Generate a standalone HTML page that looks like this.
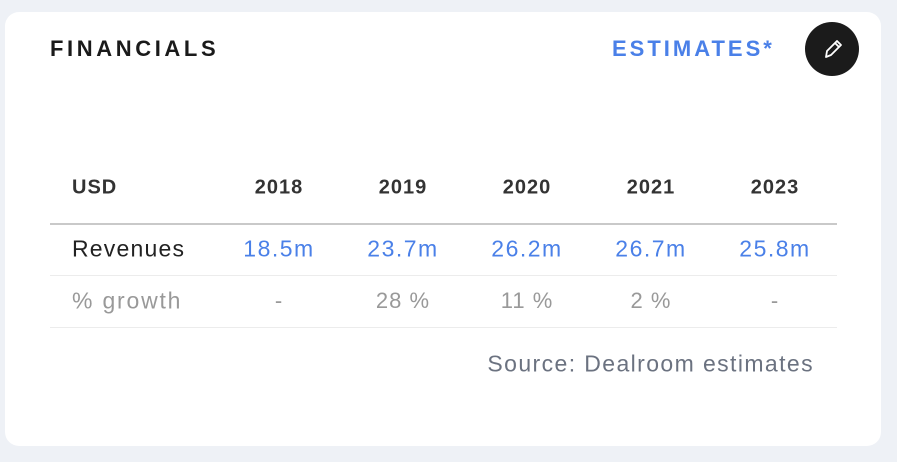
<!DOCTYPE html>
<html><head><meta charset="utf-8"><style>
body{margin:0;width:897px;height:462px;background:#eef1f6;font-family:"Liberation Sans",sans-serif;position:relative;overflow:hidden}
.card{position:absolute;left:5px;top:12px;width:876px;height:434px;background:#fff;border-radius:14px}
.t{position:absolute;white-space:nowrap;transform:translate(-50%,-50%)}
.l{position:absolute;white-space:nowrap;transform:translateY(-50%)}
.line{position:absolute;left:50px;width:787px}
</style></head><body>
<div class="card"></div>
<div class="l" style="left:50px;top:49px;font-size:22px;font-weight:bold;letter-spacing:3.6px;color:#1a1a1a">FINANCIALS</div>
<div class="l" style="left:612px;top:49px;font-size:22px;font-weight:bold;letter-spacing:3px;color:#4a80e8">ESTIMATES*</div>
<div style="position:absolute;left:805px;top:22px;width:54px;height:54px;border-radius:50%;background:#1b1b1b">
<svg width="54" height="54" viewBox="0 0 54 54"><path d="M21 35 L22 29 L32 19 L36 23 L26 33 Z M30 21 L34 25" fill="none" stroke="#fff" stroke-width="1.8" stroke-linejoin="round"/></svg></div>
<div class="l" style="left:72px;top:188px;font-size:20px;color:#333;font-weight:bold;letter-spacing:1px">USD</div>
<div id="tbl"></div>
<div class="line" style="top:223px;height:2px;background:#c9c9c9"></div>
<div class="l" style="left:72px;top:249px;font-size:23px;color:#222;letter-spacing:1.2px">Revenues</div>
<div class="line" style="top:275px;height:1px;background:#ececec"></div>
<div class="l" style="left:72px;top:301px;font-size:23px;color:#999;letter-spacing:1.8px">% growth</div>
<div class="line" style="top:327px;height:1px;background:#ececec"></div>
<div class="l" style="right:83px;top:364px;font-size:23px;color:#6b7280;letter-spacing:1.4px">Source: Dealroom estimates</div>
<script>
const years=["2018","2019","2020","2021","2023"];
const revenues=["18.5m","23.7m","26.2m","26.7m","25.8m"];
const growth=["-","28 %","11 %","2 %","-"];
const tbl=document.getElementById('tbl');
function cell(txt,x,y,size,color,name,bold,ls){
  const d=document.createElement('div');
  d.className='t';
  d.style.cssText=`left:${x}px;top:${y}px;font-size:${size}px;color:${color};letter-spacing:${ls}px;${bold?'font-weight:bold;':''}`;
  d.textContent=txt;
  
  
  tbl.appendChild(d);
}
years.forEach((y,i)=>{
  const x=279+i*124;
  cell(y,x,188,20,'#333','year-header',true,1);
  cell(revenues[i],x,249,23,'#4a80e8','revenue-value',false,1.5);
  cell(growth[i],x,301,22,'#999','growth-value',false,1);
});
</script>
</body></html>
